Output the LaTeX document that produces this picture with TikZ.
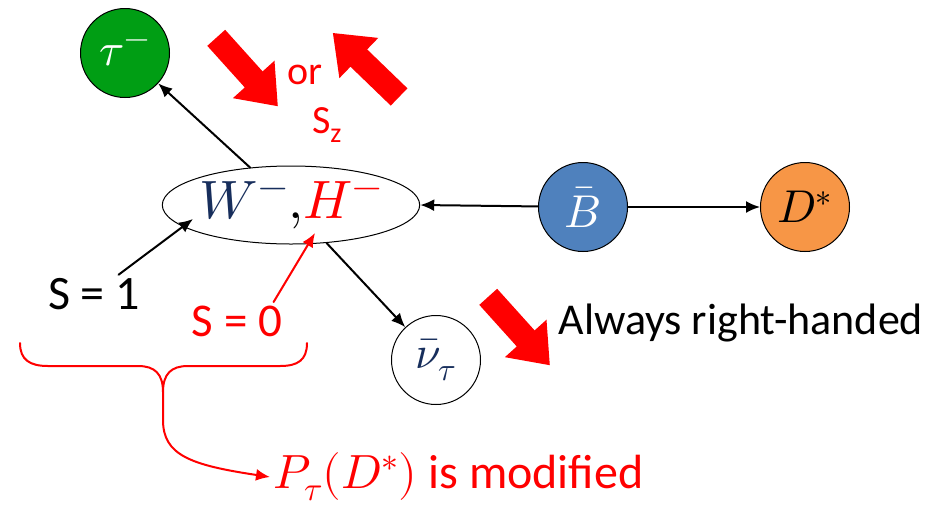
\documentclass[tikz,border=0pt]{standalone}
\usepackage{fontspec}
\usepackage{unicode-math}
\setmainfont{Carlito}
\setmathfont{Latin Modern Math}
\usetikzlibrary{shapes.geometric,arrows.meta}

\begin{document}
\begin{tikzpicture}[x=1pt, y=-1pt, line join=round, line cap=round]
        \definecolor{taugreen}{RGB}{0,158,20}
        \definecolor{bbarblue}{RGB}{79,129,189}
        \definecolor{dstarorange}{RGB}{247,150,70}
        \definecolor{wblue}{RGB}{23,46,92}
        \tikzset{
            particle/.style={circle, draw, line width=1pt, minimum size=89pt, inner sep=0pt, font=\fontsize{46}{50}\selectfont},
            decay/.style={line width=2pt, -{Latex[length=14pt,width=12pt]}},
            fatarrow/.pic={\fill[red] (-46,-12) -- (10,-12) -- (10,-28) -- (46,0) -- (10,28) -- (10,12) -- (-46,12) -- cycle;},
            spintext/.style={font=\fontsize{40}{44}\selectfont}
        }
        \useasboundingbox (0,0) rectangle (938,507);

        \node[particle, fill=taugreen, text=white] (tau) at (125,53) {$\tau^-$};
        \node[ellipse, draw, line width=1pt, minimum width=238pt, minimum height=78pt, inner sep=0pt, font=\fontsize{54}{58}\selectfont] (wh) at (291,205) {\textcolor{wblue}{$W^-$}$,$\textcolor{red}{$H^-$}};
        \node[particle, fill=bbarblue, text=white] (bbar) at (583,207) {$\bar{B}$};
        \node[particle, fill=dstarorange] (dstar) at (805,207) {$D^*$};
        \node[particle, fill=white, text=wblue] (nubar) at (436,360) {$\bar{\nu}_\tau$};

        \pic[rotate=-48] at (247,72) {fatarrow};
        \pic[rotate=136] at (366,65) {fatarrow};
        \pic[rotate=-48] at (519,331) {fatarrow};
        \node[spintext, red] (ortext) at (305,75) {or};
        \node[spintext, red] (sz) at (327,125) {S\textsubscript{z}};
        \node[spintext, anchor=west, font=\fontsize{44}{48}\selectfont] (righthand) at (555,323) {Always right-handed};

        \node[spintext, font=\fontsize{48}{52}\selectfont] (sone) at (94,294) {S = 1};
        \node[spintext, red, font=\fontsize{47}{52}\selectfont] (szero) at (237,321) {S = 0};

        \draw[decay] (wh) -- (tau);
        \draw[decay] (wh) -- (nubar);
        \draw[decay] (bbar) -- (wh.east);
        \draw[decay] (bbar) -- (dstar);
        \draw[decay] ([xshift=-25pt]sone.north east) -- ([xshift=-98pt,yshift=-14pt]wh.center);
        \draw[decay, red] ([xshift=-12pt]szero.north east) -- ([xshift=24pt,yshift=-28pt]wh.center);

        \draw[red, line width=2pt] (20,343) .. controls (20,360) and (30,366) .. (48,366) -- (138,366) .. controls (155,366) and (163,374) .. (163,392)
            .. controls (163,374) and (171,366) .. (188,366) -- (280,366) .. controls (298,366) and (307,360) .. (307,343);
        \coordinate (bracetip) at (163,392);

        \node[anchor=west, red, font=\fontsize{48}{52}\selectfont] (modified) at (270,477) {$P_\tau(D^*)$ is modified};
        \draw[decay, red] (bracetip) -- (163,420) .. controls (163,455) and (190,465) .. (modified.west);
    \end{tikzpicture}
\end{document}
